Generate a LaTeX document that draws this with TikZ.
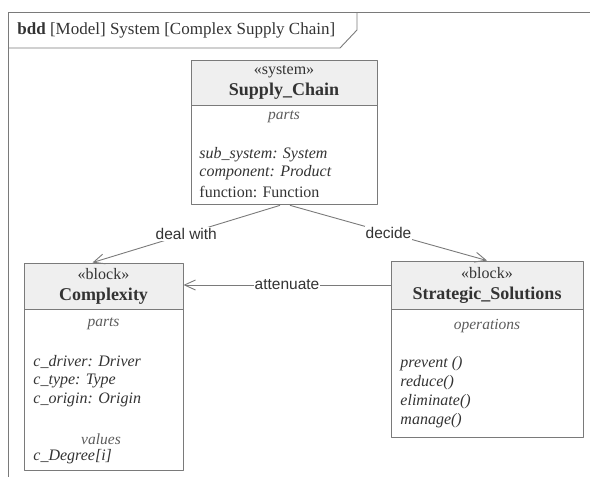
\documentclass[tikz,border=0pt]{standalone}
\usepackage{fontspec}
\setmainfont{Liberation Serif}
\newfontfamily\lblfont{Liberation Sans}
\usetikzlibrary{arrows.meta}
\definecolor{linegray}{HTML}{7A7A7A}
\definecolor{hdrgray}{HTML}{EFEFEF}
\definecolor{txtgray}{HTML}{333333}
\tikzset{
  hdr/.style={draw=linegray, fill=hdrgray, align=center, inner sep=0pt, text=txtgray,
    font=\fontsize{16}{21}\selectfont},
  cmp/.style={draw=linegray, inner sep=0pt},
  attr/.style={anchor=west, inner sep=0pt, text=txtgray, font=\fontsize{16}{18}\selectfont\itshape},
  sect/.style={inner sep=0pt, text=txtgray!80, font=\fontsize{15.5}{18}\selectfont\itshape},
  lbl/.style={fill=white, inner sep=1pt, text=txtgray, font=\lblfont\fontsize{15.5}{17}\selectfont},
  assoc/.style={draw=linegray, -{Straight Barb[length=11pt,width=10pt]}}
}
\begin{document}
\begin{tikzpicture}[x=1pt, y=-1pt, line join=round, line width=0.9pt]
\useasboundingbox (0,0) rectangle (590,477);
\draw[linegray] (590,12) -- (8,12) -- (8,477);
\draw[linegray] (8,48) -- (340,48) -- (357,30) -- (357,12);
\node[anchor=west, inner sep=0pt, text=txtgray, font=\fontsize{17}{18}\selectfont] (title) at (17,30)
  {\textbf{bdd} [Model] System [Complex Supply Chain]};

\node[hdr, minimum width=186, minimum height=45] (schead) at (284,82.5)
  {«system»\\{\bfseries\fontsize{18}{21}\selectfont Supply\_Chain}};
\node[cmp, minimum width=186, minimum height=99, anchor=north] (scbody) at (schead.south) {};
\node[sect] (scparts) at (284,117) {parts};
\node[attr] (sc1) at (199,155) {sub\_system: System};
\node[attr] (sc2) at (199,173) {component: Product};
\node[attr, font=\fontsize{16}{18}\selectfont] (sc3) at (199,192) {function: Function};

\node[hdr, minimum width=159, minimum height=46] (cxhead) at (103.5,286)
  {«block»\\{\bfseries\fontsize{18}{21}\selectfont Complexity}};
\node[cmp, minimum width=159, minimum height=161, anchor=north] (cxbody) at (cxhead.south) {};
\node[sect] (cxparts) at (103.5,324) {parts};
\node[attr] (cx1) at (33,362) {c\_driver: Driver};
\node[attr] (cx2) at (33,381) {c\_type: Type};
\node[attr] (cx3) at (33,400) {c\_origin: Origin};
\node[sect] (cxvalues) at (101,439) {values};
\node[attr] (cx4) at (33,457) {c\_Degree[i]};

\node[hdr, minimum width=192, minimum height=48] (sshead) at (487,285)
  {«block»\\{\bfseries\fontsize{18}{21}\selectfont Strategic\_Solutions}};
\node[cmp, minimum width=192, minimum height=128, anchor=north] (ssbody) at (sshead.south) {};
\node[sect] (ssops) at (487,326) {operations};
\node[attr] (ss1) at (400,364) {prevent ()};
\node[attr] (ss2) at (400,383) {reduce()};
\node[attr] (ss3) at (400,402) {eliminate()};
\node[attr] (ss4) at (400,421) {manage()};

\draw[assoc] ([xshift=-4]scbody.south) -- node[lbl] {deal with} ([xshift=-11]cxhead.north);
\draw[assoc] ([xshift=6]scbody.south) -- node[lbl] {decide} (sshead.north);
\draw[assoc] (sshead.west) -- node[lbl] {attenuate} (sshead.west -| cxhead.east);
\end{tikzpicture}
\end{document}
